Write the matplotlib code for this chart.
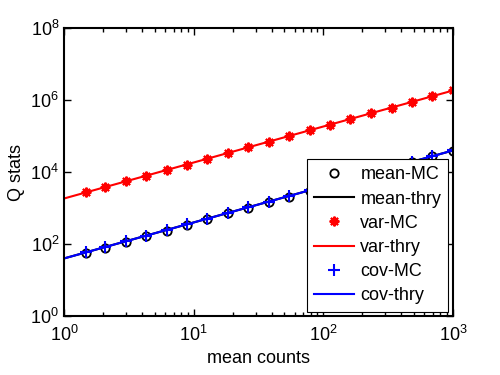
import numpy as np
import matplotlib
matplotlib.use('Agg')
import matplotlib.pyplot as plt
from matplotlib.ticker import LogLocator, NullLocator

plt.rcParams['font.family'] = ['Liberation Sans', 'DejaVu Sans']
plt.rcParams['mathtext.default'] = 'regular'

# mean counts at the Monte Carlo points
x_mc = [1.47, 2.07, 2.99, 4.27, 6.19, 8.88, 12.7, 18.4, 26.1, 38.1,
        54.3, 78.8, 112, 160, 233, 336, 485, 691, 1000]
mean_mc = [56, 80, 117, 163, 232, 346, 490, 715, 1010, 1490,
           2080, 3080, 4400, 6250, 9150, 13200, 19000, 27200, 39600]
var_mc = [2750, 3780, 5600, 7750, 11600, 16100, 23900, 33500, 49000, 70000,
          98000, 144000, 210000, 292000, 436000, 612000, 910000, 1300000, 1870000]
cov_mc = [59, 83, 121, 172, 252, 352, 512, 745, 1050, 1520,
          2190, 3120, 4530, 6420, 9400, 13500, 19600, 28100, 40300]

# theory curves (straight on log-log)
x_thry = [1, 1000]
mean_thry = [40, 40000]
var_thry = [1850, 1850000]
cov_thry = [40, 40000]

fig = plt.figure(figsize=(5, 3.75), dpi=100)
ax = fig.add_axes([0.128, 0.157, 0.778, 0.768])

ax.plot(x_mc, mean_mc, 'o', color='k', mfc='none', ms=6, mew=1.3, label='mean-MC')
ax.plot(x_thry, mean_thry, '-', color='k', lw=1.5, label='mean-thry')
ax.plot(x_mc, var_mc, marker=(8, 2, 0), ls='none', color='r', ms=7, mew=1.5, label='var-MC')
ax.plot(x_thry, var_thry, '-', color='r', lw=1.5, label='var-thry')
ax.plot(x_mc, cov_mc, '+', color='b', ms=8, mew=1.5, label='cov-MC')
ax.plot(x_thry, cov_thry, '-', color='b', lw=1.5, label='cov-thry')

ax.set_xscale('log')
ax.set_yscale('log')
ax.set_xlim(1, 1000)
ax.set_ylim(1, 1e8)
ax.set_yticks([1, 1e2, 1e4, 1e6, 1e8])
ax.yaxis.set_minor_locator(NullLocator())
ax.xaxis.set_minor_locator(LogLocator(base=10, subs=np.arange(2, 10)))

ax.tick_params(which='both', direction='in', top=True, right=True, labelsize=13)
ax.tick_params(axis='x', which='major', pad=6)
ax.tick_params(which='major', length=5, width=1)
ax.tick_params(which='minor', length=3, width=1)
for s in ax.spines.values():
    s.set_linewidth(1.5)

ax.set_xlabel('mean counts', fontsize=13, labelpad=4)
ax.set_ylabel('Q stats', fontsize=13, labelpad=4)

leg = ax.legend(loc='lower right', fontsize=13, frameon=True, fancybox=False,
                edgecolor='k', framealpha=1, handlelength=2.2, handletextpad=0.35,
                borderaxespad=0.25, labelspacing=0.4, borderpad=0.4)
leg.get_frame().set_linewidth(0.8)

fig.savefig('out.png', dpi=100)
